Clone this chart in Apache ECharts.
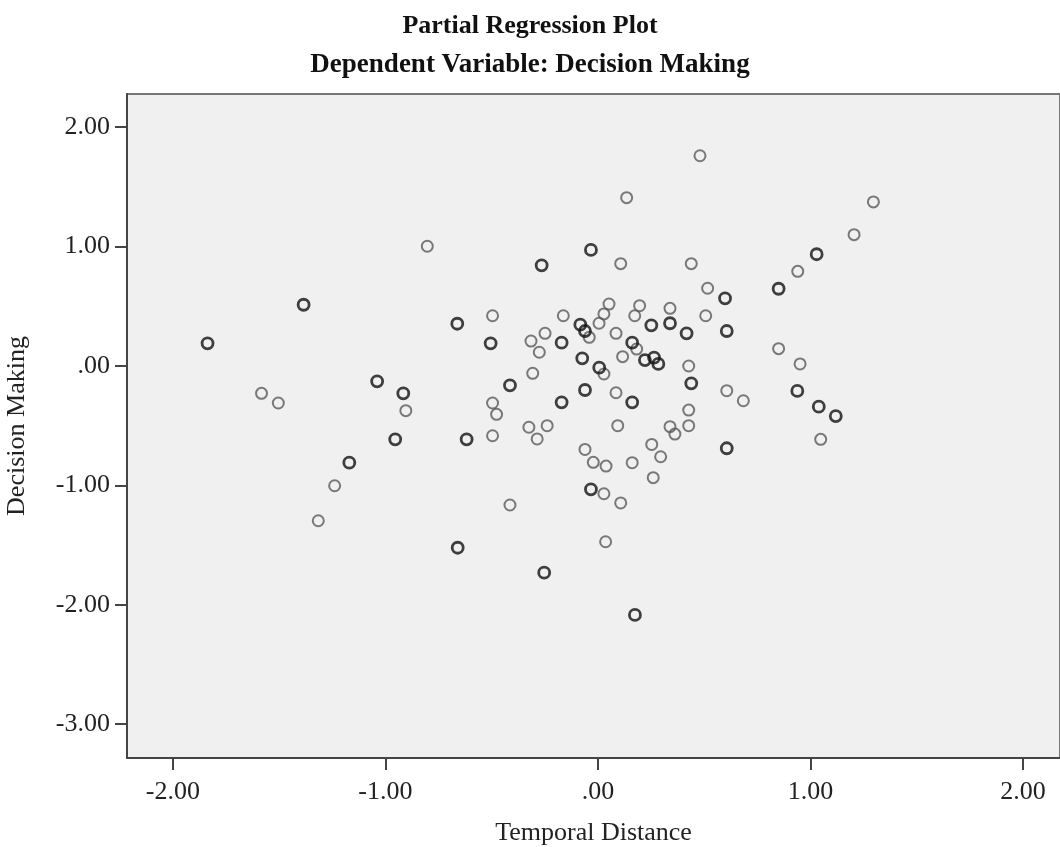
<!DOCTYPE html>
<html>
<head>
<meta charset="utf-8">
<script src="https://cdn.jsdelivr.net/npm/echarts@6/dist/echarts.min.js"></script>
<style>
  html, body { margin: 0; padding: 0; background: #fff; }
  #main { width: 1060px; height: 847px; }
</style>
</head>
<body>
<div id="main"></div>
<script>
// points drawn once (grey rings)
const singlePts = [
  [-1.583, -0.229], [-1.504, -0.310], [-0.904, -0.374], [-1.239, -1.003], [-1.316, -1.296],
  [-0.496, 0.421], [-0.496, -0.310], [-0.477, -0.405], [-0.496, -0.584], [-0.803, 1.003],
  [0.480, 1.761], [0.135, 1.410], [0.107, 0.857], [0.439, 0.857], [0.516, 0.651],
  [0.507, 0.421], [0.339, 0.483], [0.196, 0.505], [0.173, 0.421], [0.052, 0.519],
  [0.028, 0.436], [0.005, 0.358], [0.085, 0.274], [-0.163, 0.421], [-0.041, 0.240],
  [-0.249, 0.274], [-0.315, 0.209], [-0.276, 0.115], [0.182, 0.142], [0.116, 0.078],
  [0.028, -0.067], [0.427, 0.000], [0.606, -0.207], [0.684, -0.291], [0.427, -0.369],
  [0.427, -0.500], [0.339, -0.508], [0.362, -0.570], [0.085, -0.224], [0.093, -0.500],
  [-0.307, -0.061], [-0.325, -0.513], [-0.239, -0.500], [-0.286, -0.611], [-0.061, -0.699],
  [0.253, -0.657], [-0.022, -0.807], [0.038, -0.838], [0.161, -0.810], [0.295, -0.760],
  [0.260, -0.935], [0.028, -1.070], [0.107, -1.147], [-0.414, -1.164], [0.036, -1.472],
  [1.296, 1.374], [1.205, 1.100], [0.940, 0.793], [0.850, 0.145], [0.951, 0.017],
  [1.048, -0.614]
];
// overlapping cases (darker rings)
const overlapPts = [
  [-1.837, 0.190], [-1.385, 0.513], [-1.039, -0.128], [-0.916, -0.229], [-0.954, -0.614],
  [-1.170, -0.810], [-0.660, -1.522], [-0.662, 0.354], [-0.505, 0.190], [-0.618, -0.614],
  [-0.033, 0.972], [-0.265, 0.843], [0.598, 0.567], [0.606, 0.293], [0.339, 0.358],
  [0.417, 0.274], [0.251, 0.341], [-0.083, 0.346], [-0.061, 0.293], [-0.171, 0.195],
  [0.161, 0.195], [-0.074, 0.064], [0.221, 0.050], [0.264, 0.070], [0.284, 0.017],
  [0.006, -0.014], [0.439, -0.145], [0.161, -0.304], [-0.061, -0.201], [-0.171, -0.304],
  [-0.414, -0.162], [0.606, -0.689], [-0.033, -1.033], [-0.253, -1.731], [0.174, -2.085],
  [1.029, 0.936], [0.850, 0.647], [0.938, -0.209], [1.039, -0.341], [1.119, -0.419]
];
const xTicks = [-2, -1, 0, 1, 2];
const yTicks = [2, 1, 0, -1, -2, -3];

const font = 'Liberation Serif';
function fmt(v) {
  let s = Number(v).toFixed(2);
  return s.replace(/^(-?)0\./, '$1.');
}

const chart = echarts.init(document.getElementById('main'));
chart.setOption({
  backgroundColor: '#fff',
  animation: false,
  title: [
    { text: 'Partial Regression Plot', left: 'center', top: 8,
      textStyle: { fontFamily: font, fontSize: 26, fontWeight: 'bold', color: '#111' } },
    { text: 'Dependent Variable: Decision Making', left: 'center', top: 47,
      textStyle: { fontFamily: font, fontSize: 27, fontWeight: 'bold', color: '#111' } }
  ],
  grid: {
    left: 127, right: 0, top: 94, bottom: 89,
    show: true, backgroundColor: '#f0f0f0', borderColor: '#777', borderWidth: 2,
    outerBoundsMode: 'none'
  },
  xAxis: {
    type: 'value', min: -2.216, max: 2.174,
    name: 'Temporal Distance', nameLocation: 'middle', nameGap: 62,
    nameTextStyle: { fontFamily: font, fontSize: 26, color: '#222' },
    axisLine: { onZero: false, lineStyle: { color: '#444', width: 2 } },
    axisTick: { show: true, length: 12, customValues: xTicks, lineStyle: { color: '#444', width: 2 } },
    axisLabel: { customValues: xTicks, formatter: fmt, margin: 21,
      fontFamily: font, fontSize: 26, color: '#222' },
    splitLine: { show: false }
  },
  yAxis: {
    type: 'value', min: -3.283, max: 2.278,
    name: 'Decision Making', nameLocation: 'middle', nameGap: 97, nameRotate: 90,
    nameTextStyle: { fontFamily: font, fontSize: 26, color: '#222' },
    axisLine: { show: true, onZero: false, lineStyle: { color: '#444', width: 2 } },
    axisTick: { show: true, length: 12, customValues: yTicks, lineStyle: { color: '#444', width: 2 } },
    axisLabel: { customValues: yTicks, formatter: fmt, margin: 17,
      fontFamily: font, fontSize: 26, color: '#222' },
    splitLine: { show: false }
  },
  series: [
    {
      type: 'scatter', data: singlePts, symbol: 'circle', symbolSize: 11,
      itemStyle: { color: 'rgba(0,0,0,0)', borderColor: '#5a5a5a', borderWidth: 2 }
    },
    {
      type: 'scatter', data: overlapPts, symbol: 'circle', symbolSize: 11,
      itemStyle: { color: 'rgba(0,0,0,0)', borderColor: '#111', borderWidth: 2.8 }
    }
  ]
});
</script>
</body>
</html>
